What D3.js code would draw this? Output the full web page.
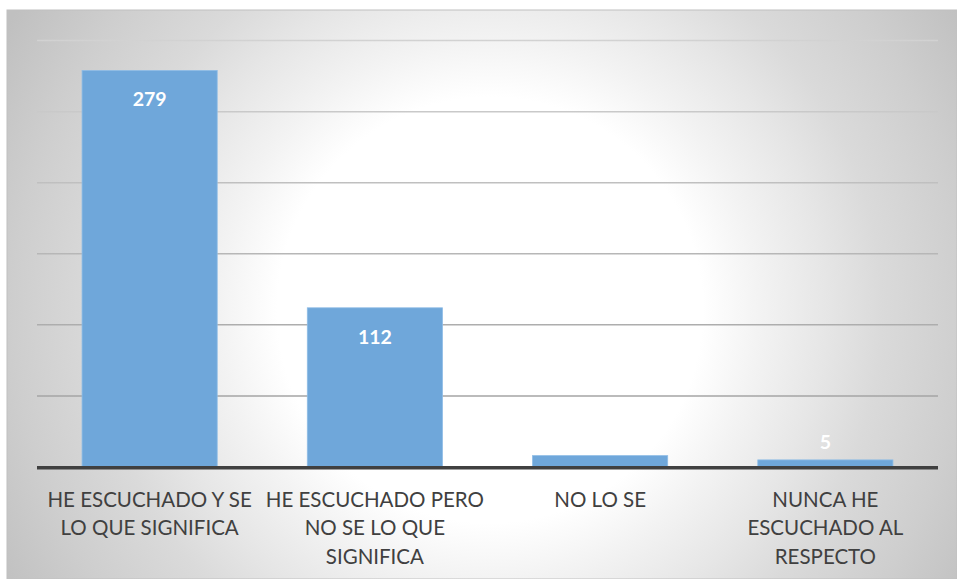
<!DOCTYPE html>
<html><head><meta charset="utf-8">
<script src="https://cdn.jsdelivr.net/npm/d3@7/dist/d3.min.js"></script>
<style>html,body{margin:0;padding:0;background:#fff;}svg{display:block;}</style>
</head><body>
<script>
const categories = [
  ["HE ESCUCHADO Y SE", "LO QUE SIGNIFICA"],
  ["HE ESCUCHADO PERO", "NO SE LO QUE", "SIGNIFICA"],
  ["NO LO SE"],
  ["NUNCA HE", "ESCUCHADO AL", "RESPECTO"]
];
const values = [279, 112, 8, 5];
const yTicks = [0, 50, 100, 150, 200, 250, 300];

const W = 957, H = 579;
const svg = d3.select("body").append("svg").attr("width", W).attr("height", H);
const defs = svg.append("defs");
const rg = defs.append("radialGradient").attr("id", "bg")
  .attr("gradientUnits", "userSpaceOnUse")
  .attr("cx", 490).attr("cy", 310).attr("r", 560).attr("fx", 490).attr("fy", 310);
[[0, "#ffffff"], [0.38, "#ffffff"], [0.48, "#f3f3f3"], [0.6, "#e6e6e6"],
 [0.7, "#dadada"], [0.85, "#cecece"], [1, "#c0c0c0"]].forEach(([o, c]) =>
  rg.append("stop").attr("offset", o).attr("stop-color", c));

const gg = defs.append("linearGradient").attr("id", "grid")
  .attr("gradientUnits", "userSpaceOnUse").attr("x1", 0).attr("y1", 40).attr("x2", 0).attr("y2", 400);
gg.append("stop").attr("offset", 0).attr("stop-color", "#d2d2d2");
gg.append("stop").attr("offset", 1).attr("stop-color", "#a4a4a4");

svg.append("rect").attr("x", 7).attr("y", 10).attr("width", W - 7).attr("height", H - 10)
  .attr("fill", "url(#bg)").attr("stroke", "#c0c0c0").attr("stroke-width", 1);

const x = d3.scaleBand().domain(d3.range(categories.length)).range([37, 938])
  .paddingInner(0.4).paddingOuter(0.2);
const y = d3.scaleLinear().domain([0, 300]).range([467, 40.6]);

// gridlines
svg.append("g").selectAll("line").data(yTicks.filter(d => d > 0)).join("line")
  .attr("x1", 37).attr("x2", 938)
  .attr("y1", d => y(d)).attr("y2", d => y(d))
  .attr("stroke", "url(#grid)").attr("stroke-width", 1.5);

// bars
svg.append("g").selectAll("rect").data(values).join("rect")
  .attr("x", (d, i) => x(i)).attr("width", x.bandwidth())
  .attr("y", d => y(d)).attr("height", d => y(0) - y(d))
  .attr("fill", "#6fa7da").attr("stroke", "#8ebce6").attr("stroke-width", 0.8);

// baseline
svg.append("line").attr("x1", 37).attr("x2", 938)
  .attr("y1", y(0) + 0.8).attr("y2", y(0) + 0.8)
  .attr("stroke", "#404040").attr("stroke-width", 3.6);

// data labels
svg.append("g").selectAll("text").data(values).join("text")
  .attr("x", (d, i) => x(i) + x.bandwidth() / 2)
  .attr("y", d => Math.min(y(d) + 36, y(0) - 18))
  .attr("text-anchor", "middle")
  .attr("font-family", "Lato, 'Open Sans', sans-serif")
  .attr("font-weight", "bold").attr("font-size", "19.5px")
  .attr("fill", "#ffffff")
  .text(d => d);

// category labels
const lab = svg.append("g").selectAll("text").data(categories).join("text")
  .attr("text-anchor", "middle")
  .attr("font-family", "Lato, 'Open Sans', sans-serif")
  .attr("font-size", "20.5px").attr("fill", "#404040");
lab.selectAll("tspan").data((d, i) => d.map(t => ({t, i}))).join("tspan")
  .attr("x", d => x(d.i) + x.bandwidth() / 2)
  .attr("y", (d, j) => 506.7 + j * 28.4)
  .text(d => d.t);
</script>
</body></html>
